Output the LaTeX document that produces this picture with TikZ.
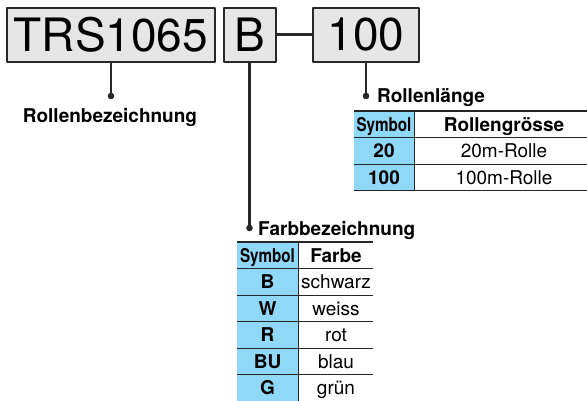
\documentclass[tikz,border=0pt]{standalone}
\usepackage{graphicx}
\usepackage{fontspec}
\setmainfont{TeX Gyre Heros}
\usetikzlibrary{positioning}
\definecolor{symblue}{RGB}{143,216,247}
\definecolor{boxgray}{RGB}{230,230,230}
\definecolor{rim}{RGB}{40,40,40}
\begin{document}
\begin{tikzpicture}[x=1pt, y=-1pt, line join=round,
  codebox/.style={draw=rim, line width=2pt, fill=boxgray, inner sep=0pt,
    minimum height=54pt, font=\fontsize{46}{46}\selectfont},
  lead/.style={draw=rim, line width=2.4pt},
  caption/.style={font=\bfseries\fontsize{19}{22}\selectfont, inner sep=0pt},
  cell/.style={font=\fontsize{19}{22}\selectfont, inner sep=0pt, anchor=base},
  symcell/.style={cell, font=\bfseries\fontsize{19}{22}\selectfont},
  sepline/.style={draw=black!85, line width=1pt},
  headline/.style={draw=black!85, line width=2.2pt}]
  \useasboundingbox (0,0) rectangle (587,400);

  % Bestellcode
  \node[codebox, minimum width=208pt] (code) at (111,34.5) {TRS1065};
  \node[codebox, minimum width=52pt] (colour) at (249.5,34.5) {B};
  \node[codebox, minimum width=106pt] (length) at (366,34.5) {100};
  \draw[lead] (colour.east) -- (length.west);

  % Zuleitungen mit Punkt
  \coordinate (codedot) at (111,96);
  \coordinate (colourdot) at (249.5,228);
  \coordinate (lengthdot) at (366,96);
  \draw[lead] (code.south) -- (codedot);
  \draw[lead] (colour.south) -- (colourdot);
  \draw[lead] (length.south) -- (lengthdot);
  \foreach \p in {codedot, colourdot, lengthdot}
    \fill[rim] (\p) circle (3.3pt);

  % Beschriftungen
  \node[caption, anchor=base] (codelabel) at (110,122) {Rollenbezeichnung};
  \node[caption, anchor=base west] (lengthlabel) at (377,102) {Rollenlänge};
  \node[caption, anchor=base west] (colourlabel) at (258,235) {Farbbezeichnung};

  % Tabelle Rollenlaenge
  \fill[symblue] (354,111) rectangle (414,190);
  \foreach \y in {137,164,190}
    \draw[sepline] (354,\y) -- (587,\y);
  \draw[sepline] (414,111) -- (414,190);
  \draw[headline] (354,111) -- (587,111);
  \node[symcell] (lensymhead) at (384,131) {\scalebox{0.8}[1]{Symbol}};
  \node[symcell] (lenvalhead) at (504,131) {Rollengrösse};
  \foreach \sym/\val [count=\i] in {20/20m-Rolle, 100/100m-Rolle} {
    \node[symcell] (lensym\i) at (384,131+26.5*\i) {\sym};
    \node[cell] (lenval\i) at (504,131+26.5*\i) {\val};
  }

  % Tabelle Farbe
  \fill[symblue] (237,242) rectangle (298,401);
  \foreach \i in {1,...,5}
    \draw[sepline] (237,242+26.5*\i) -- (373,242+26.5*\i);
  \draw[sepline] (298,242) -- (298,401);
  \draw[headline] (237,242) -- (373,242);
  \node[symcell] (colsymhead) at (267.5,262) {\scalebox{0.8}[1]{Symbol}};
  \node[symcell] (colvalhead) at (336,262) {Farbe};
  \foreach \sym/\val [count=\i] in {B/schwarz, W/weiss, R/rot, BU/blau, G/grün} {
    \node[symcell] (colsym\i) at (267.5,262+26.5*\i) {\sym};
    \node[cell] (colval\i) at (336,262+26.5*\i) {\val};
  }
\end{tikzpicture}
\end{document}
